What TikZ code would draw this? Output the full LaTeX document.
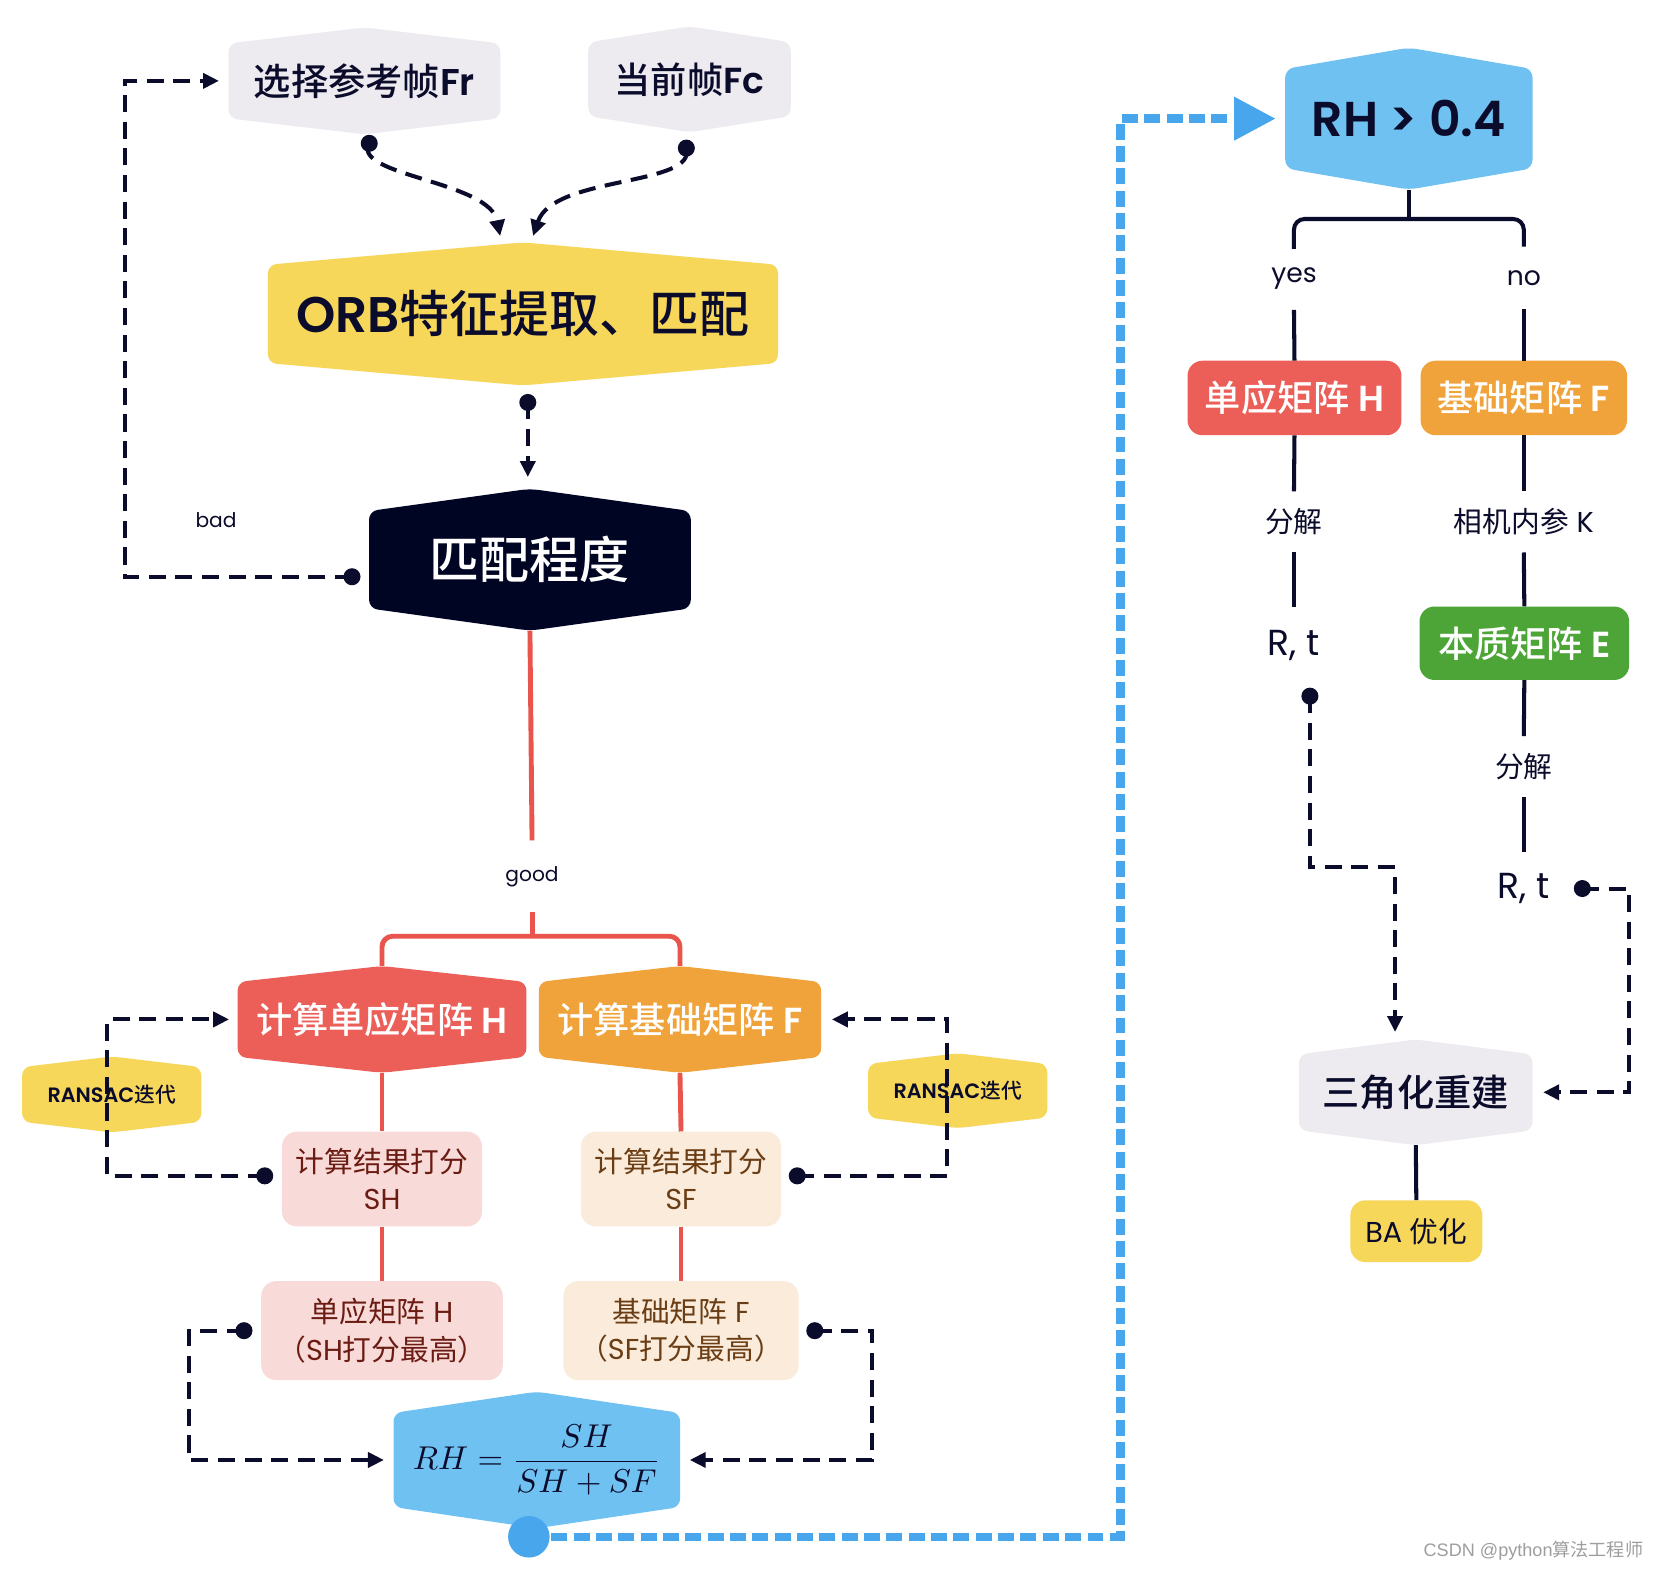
\documentclass[tikz,border=0pt]{standalone}
\usepackage{fontspec}
\setmainfont{Poppins}[BoldFont={Poppins SemiBold}]
\newfontfamily\cjk{Noto Sans CJK SC}[BoldFont={Noto Sans CJK SC Medium}]
\newfontfamily\wmfont{Liberation Sans}
\usetikzlibrary{arrows.meta,backgrounds,calc}

\definecolor{boxgray}{HTML}{EDEBEF}
\definecolor{myyellow}{HTML}{F6D75A}
\definecolor{navy}{HTML}{000524}
\definecolor{myred}{HTML}{EC5F59}
\definecolor{myorange}{HTML}{F1A33B}
\definecolor{myblue}{HTML}{6FC1F1}
\definecolor{linkblue}{HTML}{47A6EC}
\definecolor{mypink}{HTML}{F8DAD8}
\definecolor{mybeige}{HTML}{FAEBDA}
\definecolor{mygreen}{HTML}{4DA538}
\definecolor{redline}{HTML}{E9554C}
\definecolor{maroon}{HTML}{6A1B12}
\definecolor{brownt}{HTML}{6B3D14}
\definecolor{inkc}{HTML}{0B0B2B}

\newcommand\hexfill[3]{%
  \begin{pgfonlayer}{background}
  \fill[#2, rounded corners=8pt]
    ([yshift=-#3]#1.north west) -- (#1.north) -- ([yshift=-#3]#1.north east) --
    ([yshift=#3]#1.south east) -- (#1.south) -- ([yshift=#3]#1.south west) -- cycle;
  \end{pgfonlayer}}

\begin{document}
\begin{tikzpicture}[x=1pt,y=-1pt,
  hexn/.style 2 args={rectangle, minimum width=#1, minimum height=#2, inner sep=0pt},
  rbox/.style 2 args={rectangle, rounded corners=14pt, minimum width=#1, minimum height=#2, inner sep=0pt},
  fnt/.style 2 args={font=\fontsize{#1}{#2}\selectfont},
  fntb/.style 2 args={font=\fontsize{#1}{#2}\selectfont\bfseries},
  lbl/.style={inner sep=0pt, text=inkc},
  dl/.style={draw=inkc, line width=3.8pt, dash pattern=on 16pt off 9pt, -{Triangle[length=15pt,width=14pt]}},
  sl/.style={draw=inkc, line width=3.8pt},
  rl/.style={draw=redline, line width=4.6pt},
  bl/.style={draw=linkblue, line width=8pt, dash pattern=on 15pt off 6pt, -{Triangle[length=39pt,width=39pt]}},
]
\begin{pgfonlayer}{background}
\fill[white] (0,0) rectangle (1560,1475.4);
\end{pgfonlayer}
\useasboundingbox (0,0) rectangle (1560,1475.4);

% ---------- left column nodes ----------
\node[hexn={255pt}{100pt}, fntb={35}{42}, text=inkc] (ref) at (342.5,76) {{\cjk 选择参考帧}Fr};
\hexfill{ref}{boxgray}{15pt}
\node[hexn={190pt}{99pt}, fntb={34}{42}, text=inkc] (cur) at (648,74.5) {{\cjk 当前帧}Fc};
\hexfill{cur}{boxgray}{15pt}
\node[hexn={479pt}{134pt}, fntb={47}{56}, text=inkc] (orb) at (491.5,295) {ORB{\cjk 特征提取、匹配}};
\hexfill{orb}{myyellow}{21pt}
\node[hexn={302pt}{133pt}, fntb={47}{56}, text=white] (match) at (498,526) {{\cjk 匹配程度}};
\hexfill{match}{navy}{21pt}
\node[lbl, fnt={19}{23}] (bad) at (203,489) {bad};
\node[lbl, fnt={19}{23}, minimum height=67pt] (good) at (500,823.5) {good};

\node[hexn={271pt}{100pt}, fntb={34}{40}, text=white] (hcalc) at (359,958) {{\cjk 计算单应矩阵} H};
\hexfill{hcalc}{myred}{15pt}
\node[hexn={265pt}{100pt}, fntb={34}{40}, text=white] (fcalc) at (639,958) {{\cjk 计算基础矩阵} F};
\hexfill{fcalc}{myorange}{15pt}
\node[hexn={168pt}{71pt}, fntb={19.5}{23}, text=inkc] (ranL) at (105,1028.5) {RANSAC{\cjk 迭代}};
\hexfill{ranL}{myyellow}{10pt}
\node[hexn={168pt}{70pt}, fntb={19.5}{23}, text=inkc] (ranR) at (900,1025) {RANSAC{\cjk 迭代}};
\hexfill{ranR}{myyellow}{10pt}

\node[rbox={188pt}{89pt}, fill=mypink, text=maroon, fnt={27}{35}, align=center] (hs) at (359,1108) {{\cjk 计算结果打分}\\SH};
\node[rbox={188pt}{89pt}, fill=mybeige, text=brownt, fnt={27}{35}, align=center] (fs) at (640,1108) {{\cjk 计算结果打分}\\SF};
\node[rbox={227pt}{93pt}, fill=mypink, text=maroon, fnt={27}{35}, align=center] (hbest) at (359,1250.5) {{\cjk 单应矩阵} H\\{\cjk （}SH{\cjk 打分最高）}};
\node[rbox={221pt}{93pt}, fill=mybeige, text=brownt, fnt={27}{35}, align=center] (fbest) at (640,1250.5) {{\cjk 基础矩阵} F\\{\cjk （}SF{\cjk 打分最高）}};

\node[hexn={269pt}{128pt}, text=inkc] (formula) at (504.5,1372) {\scalebox{3.1}{$\displaystyle RH=\frac{SH}{SH+SF}$}};
\hexfill{formula}{myblue}{20pt}

% ---------- right column nodes ----------
\node[hexn={232pt}{133pt}, fntb={46}{54}, text=inkc] (rh) at (1324,111.5) {RH > 0.4};
\hexfill{rh}{myblue}{20pt}
\node[lbl, fnt={25}{30}, minimum height=58pt] (yes) at (1216,262) {yes};
\node[lbl, fnt={25}{30}, minimum height=58pt] (no) at (1432,261) {no};
\node[rbox={201pt}{70pt}, fill=myred, text=white, fntb={34}{40}] (rH) at (1216.5,374) {{\cjk 单应矩阵} H};
\node[rbox={194pt}{70pt}, fill=myorange, text=white, fntb={34}{40}] (rF) at (1432,374) {{\cjk 基础矩阵} F};
\node[lbl, fnt={27}{32}, minimum height=57pt] (dec1) at (1216,490.5) {{\cjk 分解}};
\node[lbl, fnt={27}{32}, minimum height=57pt] (camk) at (1432,490.5) {{\cjk 相机内参} K};
\node[lbl, fnt={34}{40}, minimum height=72pt] (rt1) at (1216,607) {R, t};
\node[rbox={197pt}{69pt}, fill=mygreen, text=white, fntb={34}{40}] (rE) at (1432.5,604.5) {{\cjk 本质矩阵} E};
\node[lbl, fnt={27}{32}, minimum height=57pt] (dec2) at (1432,720.5) {{\cjk 分解}};
\node[lbl, fnt={34}{40}, minimum height=68pt] (rt2) at (1432,835) {R, t};
\node[hexn={219pt}{99pt}, fntb={35}{42}, text=inkc] (tri) at (1330.5,1026.5) {{\cjk 三角化重建}};
\hexfill{tri}{boxgray}{14pt}
\node[rbox={124pt}{58pt}, fill=myyellow, text=inkc, fnt={27}{32}] (ba) at (1331,1157) {BA {\cjk 优化}};

\node[inner sep=0pt, text=black!38, font=\fontsize{17}{20}\selectfont] (wm) at (1441,1457) {{\wmfont CSDN @python}{\cjk 算法工程师}};

% ---------- named dot coordinates ----------
\coordinate (dref) at ([xshift=4.5pt,yshift=-8.5pt]ref.south);
\coordinate (dcur) at ([xshift=-3pt,yshift=-15pt]cur.south);
\coordinate (orbL) at ([xshift=-21.5pt,yshift=6pt]orb.north);
\coordinate (orbR) at ([xshift=9.5pt,yshift=6pt]orb.north);
\coordinate (dorb) at ([xshift=4.5pt,yshift=-16pt]orb.south);
\coordinate (dbad) at ([xshift=-16pt,yshift=-16pt]match.west);
\coordinate (dhs) at ([xshift=-16pt,yshift=3pt]hs.west);
\coordinate (dfs) at ([xshift=15pt,yshift=3pt]fs.east);
\coordinate (dhb) at ([xshift=-16pt]hbest.west);
\coordinate (dfb) at ([xshift=15pt]fbest.east);
\coordinate (drt1) at ([xshift=15pt,yshift=-11pt]rt1.south);
\coordinate (drt2) at ([xshift=55pt]rt2.center);
\coordinate (bdot) at ([xshift=-7.5pt,yshift=-8pt]formula.south);

% ---------- connectors ----------
\draw[dl] (dref) .. controls +(-17,30.5) and +(-10,-52) .. (orbL);
\draw[dl] (dcur) .. controls +(10,36) and +(19,-57) .. (orbR);
\draw[dl, shorten >=11pt] (dorb) -- (dorb |- match.north);
\draw[dl] (dbad) -- ++(-213.5,0) |- ([xshift=-9pt]ref.west);

\draw[rl] (match.south) -- (good.north);
\draw[rl] (good.south) -- ([yshift=28pt]good.south |- hcalc.north);
\draw[rl, rounded corners=10pt] (hcalc.north) -- ++(0,-28) -| (fcalc.north);
\draw[rl] (hcalc.south) -- (hs.north);
\draw[rl] (hs.south) -- (hbest.north);
\draw[rl] (fcalc.south) -- (fs.north);
\draw[rl] (fs.south) -- (fbest.north);

\draw[dl] (dhs) -- ++(-148,0) |- ([xshift=-8pt]hcalc.west);
\draw[dl] (dfs) -- ++(141,0) |- ([xshift=10pt]fcalc.east);
\draw[dl] (dhb) -- ++(-51.5,0) |- ([xshift=-9pt]formula.west);
\draw[dl] (dfb) -- ++(54,0) |- ([xshift=9pt]formula.east);

\draw[bl] (bdot) -- ++(556,0) |- ([xshift=-9pt]rh.west);

\draw[sl] (rh.south) -- ([yshift=27pt]rh.south |- no.north);
\draw[sl, rounded corners=10pt] (yes.north) ++(0,1) -- ++(0,-28) -| (no.north);
\draw[sl] (yes.south) -- (rH.north);
\draw[sl] (rH.south) -- (dec1.north);
\draw[sl] (dec1.south) -- (rt1.north);
\draw[sl] (no.south) -- (rF.north);
\draw[sl] (rF.south) -- (camk.north);
\draw[sl] (camk.south) -- (rE.north);
\draw[sl] (rE.south) -- (dec2.north);
\draw[sl] (dec2.south) -- (rt2.north);
\draw[sl] (tri.south) -- (ba.north);

\draw[dl] (drt1) -- ++(0,161) -| ([xshift=-19.5pt,yshift=7pt]tri.north);
\draw[dl] (drt2) -- ++(44,0) |- ([xshift=10pt]tri.east);

% ---------- dots ----------
\foreach \d in {dref,dcur,dorb,dbad,dhs,dfs,dhb,dfb,drt1,drt2}
  \fill[inkc] (\d) circle[radius=8pt];
\fill[linkblue] (bdot) circle[radius=19.5pt];
\end{tikzpicture}
\end{document}
